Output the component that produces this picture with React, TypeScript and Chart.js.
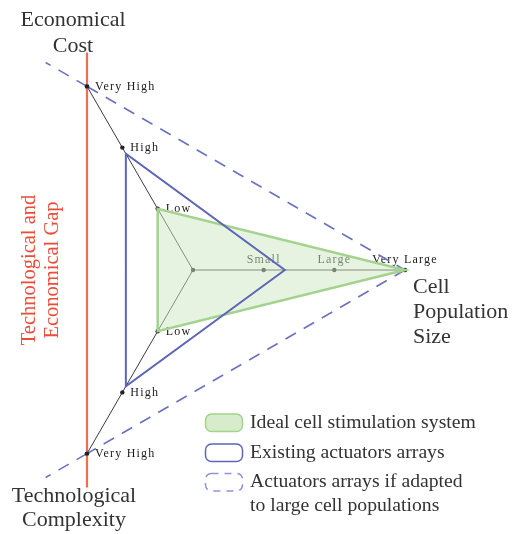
import React, { useEffect, useRef } from "react";
import { Chart, registerables } from "chart.js";

Chart.register(...registerables);

// ---- data ----
const axisNames = ["Cell Population Size", "Technological Complexity", "Economical Cost"];
const axisTitleLines = [["Cell", "Population", "Size"], ["Technological", "Complexity"], ["Economical", "Cost"]];
const sizeTicks = ["Small", "Large", "Very Large"];
const complexityTicks = ["Low", "High", "Very High"];
const costTicks = ["Low", "High", "Very High"];
const idealSystem = [3, 1, 1];
const existingArrays = [1.3, 1.9, 1.9];
const adaptedArrays = [3, 3, 3];
const seriesLabels = [
  ["Ideal cell stimulation system"],
  ["Existing actuators arrays"],
  ["Actuators arrays if adapted", "to large cell populations"],
];
const gapLabel = ["Technological and", "Economical Gap"];

// ---- styles ----
const FONT = '"Liberation Serif", "Times New Roman", serif';
const GREEN = "#a3d38c";
const GREEN_FILL = "rgba(205,232,195,0.5)";
const GREEN_LEGEND = "#d6ecca";
const BLUE = "#5d66b6";
const BLUE_DASH = "#6a72bf";
const RED_LINE = "#f26c50";
const RED_TEXT = "#ee4b3a";
const TEXT = "#333333";

const tickSets = [sizeTicks, complexityTicks, costTicks];

function drawDot(ctx: CanvasRenderingContext2D, p: any) {
  ctx.beginPath();
  ctx.arc(p.x, p.y, 2.2, 0, Math.PI * 2);
  ctx.fill();
}

const decorPlugin = {
  id: "decor",
  beforeDatasetsDraw(chart: any) {
    const s = chart.scales.r;
    const ctx: CanvasRenderingContext2D = chart.ctx;
    const max = s.max;
    const vl = s.getPointPositionForValue(0, max);
    const vhBot = s.getPointPositionForValue(1, max);
    const vhTop = s.getPointPositionForValue(2, max);
    ctx.save();
    // dashed extensions beyond very high points
    ctx.strokeStyle = BLUE_DASH;
    ctx.lineWidth = 1.6;
    ctx.setLineDash([12, 9]);
    [vhBot, vhTop].forEach((p: any) => {
      ctx.beginPath();
      ctx.moveTo(p.x, p.y);
      ctx.lineTo(p.x + (p.x - vl.x) * 0.13, p.y + (p.y - vl.y) * 0.13);
      ctx.stroke();
    });
    ctx.setLineDash([]);
    // dots
    ctx.fillStyle = "#222";
    drawDot(ctx, { x: s.xCenter, y: s.yCenter });
    tickSets.forEach((ticks, axis) => {
      ticks.forEach((_t, i) => drawDot(ctx, s.getPointPositionForValue(axis, i + 1)));
    });
    // tick labels
    ctx.font = `12px ${FONT}`;
    (ctx as any).letterSpacing = "1.2px";
    ctx.fillStyle = "#1a1a1a";
    tickSets.forEach((ticks, axis) => {
      ticks.forEach((t, i) => {
        const p = s.getPointPositionForValue(axis, i + 1);
        ctx.textBaseline = "alphabetic";
        if (axis === 0) {
          ctx.textAlign = "center";
          ctx.fillText(t, p.x, p.y - 7);
        } else {
          ctx.textAlign = "left";
          ctx.fillText(t, p.x + 8, p.y + 3.5);
        }
      });
    });
    (ctx as any).letterSpacing = "0px";
    ctx.restore();
  },
  afterDatasetsDraw(chart: any) {
    const s = chart.scales.r;
    const ctx: CanvasRenderingContext2D = chart.ctx;
    const max = s.max;
    const vhBot = s.getPointPositionForValue(1, max);
    const vhTop = s.getPointPositionForValue(2, max);
    ctx.save();
    // red gap line
    ctx.strokeStyle = RED_LINE;
    ctx.lineWidth = 2.2;
    ctx.beginPath();
    ctx.moveTo(vhTop.x, vhTop.y - 34);
    ctx.lineTo(vhBot.x, vhBot.y + 34);
    ctx.stroke();
    ctx.fillStyle = "#222";
    drawDot(ctx, vhTop);
    drawDot(ctx, vhBot);
    ctx.restore();
  },
  afterDraw(chart: any) {
    const s = chart.scales.r;
    const ctx: CanvasRenderingContext2D = chart.ctx;
    const max = s.max;
    const vl = s.getPointPositionForValue(0, max);
    const vhBot = s.getPointPositionForValue(1, max);
    const vhTop = s.getPointPositionForValue(2, max);
    ctx.save();
    // axis titles
    ctx.fillStyle = TEXT;
    ctx.font = `22px ${FONT}`;
    ctx.textBaseline = "alphabetic";
    ctx.textAlign = "left";
    axisTitleLines[0].forEach((l, i) => ctx.fillText(l, vl.x + 8, vl.y + 22.5 + i * 25));
    ctx.textAlign = "center";
    axisTitleLines[1].forEach((l, i) => ctx.fillText(l, vhBot.x - 13, vhBot.y + 48.5 + i * 23.5));
    axisTitleLines[2].forEach((l, i) => ctx.fillText(l, vhTop.x - 14, vhTop.y - 60 + i * 25.5));
    // red gap label (rotated)
    ctx.fillStyle = RED_TEXT;
    ctx.font = `20.5px ${FONT}`;
    gapLabel.forEach((l, i) => {
      ctx.save();
      ctx.translate(34.5 + i * 23.5, s.yCenter);
      ctx.rotate(-Math.PI / 2);
      ctx.textAlign = "center";
      ctx.fillText(l, 0, 0);
      ctx.restore();
    });
    // legend
    const bx = 205.5, bw = 37, bh = 17.5;
    const rowTops = [414, 444, 473.5];
    const styles = [
      { fill: GREEN_LEGEND, stroke: GREEN, dash: [] as number[], lw: 1.5 },
      { fill: "#ffffff", stroke: BLUE, dash: [] as number[], lw: 1.5 },
      { fill: "#ffffff", stroke: "#8e95d2", dash: [7, 6], lw: 1.5 },
    ];
    ctx.font = `19.7px ${FONT}`;
    ctx.textAlign = "left";
    ctx.textBaseline = "alphabetic";
    seriesLabels.forEach((lines, i) => {
      const st = styles[i];
      ctx.beginPath();
      (ctx as any).roundRect(bx, rowTops[i], bw, bh, 6);
      ctx.fillStyle = st.fill;
      ctx.fill();
      ctx.setLineDash(st.dash);
      ctx.strokeStyle = st.stroke;
      ctx.lineWidth = st.lw;
      ctx.stroke();
      ctx.setLineDash([]);
      ctx.fillStyle = TEXT;
      lines.forEach((l, j) => ctx.fillText(l, 250, rowTops[i] + 13.5 + j * 24));
    });
    ctx.restore();
  },
};

export default function App() {
  const ref = useRef<HTMLCanvasElement | null>(null);
  useEffect(() => {
    if (!ref.current) return;
    const chart = new Chart(ref.current, {
      type: "radar",
      data: {
        labels: axisNames,
        datasets: [
          {
            label: seriesLabels[1].join(" "),
            data: existingArrays,
            borderColor: BLUE,
            borderWidth: 2,
            fill: false,
            pointRadius: 0,
            order: 0,
          },
          {
            label: seriesLabels[0].join(" "),
            data: idealSystem,
            borderColor: GREEN,
            backgroundColor: GREEN_FILL,
            borderWidth: 2.5,
            fill: true,
            pointRadius: 0,
            order: 1,
          },
          {
            label: seriesLabels[2].join(" "),
            data: adaptedArrays,
            borderColor: BLUE_DASH,
            borderWidth: 1.6,
            borderDash: [12, 9],
            fill: false,
            pointRadius: 0,
            order: 2,
          },
        ],
      } as any,
      options: {
        responsive: false,
        animation: false,
        devicePixelRatio: 1,
        layout: { padding: 0 },
        elements: { line: { tension: 0 } },
        plugins: { legend: { display: false }, tooltip: { enabled: false } },
        scales: {
          r: {
            min: 0,
            max: 3,
            startAngle: 90,
            ticks: { display: false },
            grid: { display: false },
            pointLabels: { display: false },
            angleLines: { display: true, color: "#3a3a3a", lineWidth: 1 },
            afterFit: (scale: any) => {
              scale.xCenter = 193;
              scale.yCenter = 270;
              scale.drawingArea = 212;
            },
          },
        },
      } as any,
      plugins: [decorPlugin],
    });
    return () => chart.destroy();
  }, []);
  return (
    <div style={{ position: "absolute", left: 0, top: 0, width: 518, height: 534 }}>
      <canvas ref={ref} width={518} height={534} style={{ display: "block" }} />
    </div>
  );
}
